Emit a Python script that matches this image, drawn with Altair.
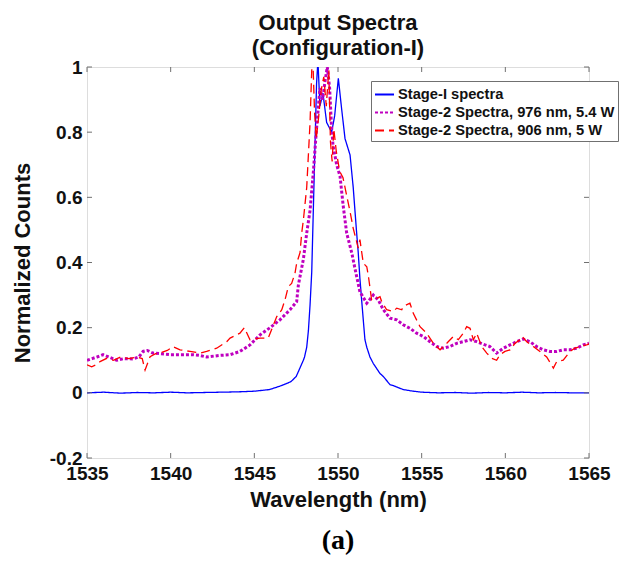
import altair as alt
import pandas as pd

# ---------------- data ----------------
series_names = ["Stage-I spectra", "Stage-2 Spectra, 976 nm, 5.4 W", "Stage-2 Spectra, 906 nm, 5 W"]

stage1_wl = [1535, 1536, 1537, 1538, 1539, 1540, 1541, 1542, 1543, 1544, 1545, 1545.9, 1546.5,
             1547.0, 1547.2, 1547.5, 1547.63, 1547.93, 1548.0, 1548.13, 1548.23, 1548.33, 1548.43,
             1548.52, 1548.62, 1548.72, 1548.8, 1548.92, 1549.1, 1549.32, 1549.62, 1549.8, 1550.02,
             1550.22, 1550.42, 1550.72, 1550.91, 1551.1, 1551.21, 1551.31, 1551.51, 1551.61, 1551.72,
             1551.91, 1552.11, 1552.5, 1552.71, 1553.11, 1553.31, 1553.9, 1554.5, 1555, 1556, 1557,
             1558, 1559, 1560, 1561, 1562, 1563, 1564, 1565]
stage1_val = [0.0, 0.002, -0.001, 0.001, 0.0, 0.002, 0.0, 0.001, 0.002, 0.003, 0.005, 0.01, 0.02,
              0.03, 0.035, 0.05, 0.065, 0.10, 0.11, 0.14, 0.19, 0.27, 0.37,
              0.55, 0.75, 0.95, 1.02, 0.88, 0.92, 0.83, 0.80, 0.85, 0.965,
              0.87, 0.78, 0.73, 0.63, 0.50, 0.43, 0.35, 0.224, 0.163, 0.14,
              0.11, 0.09, 0.06, 0.05, 0.025, 0.022, 0.01, 0.005, 0.002, 0.0, 0.001,
              -0.001, 0.001, 0.0, 0.002, 0.0, 0.001, 0.0, 0.0]

s976_wl = [1535.0, 1535.3, 1535.6, 1535.96, 1536.3, 1536.77, 1537.2, 1537.75, 1538.1, 1538.35, 1538.6,
           1538.94, 1539.4, 1539.96, 1540.56, 1541.33, 1541.7, 1542.15, 1542.95, 1543.55, 1544.14,
           1544.74, 1545.34, 1545.94, 1546.53, 1547.13, 1547.53, 1547.63, 1547.73, 1547.93, 1548.13,
           1548.33, 1548.53, 1548.7, 1548.8, 1548.92, 1549.08, 1549.22, 1549.36, 1549.5, 1549.6,
           1549.7, 1549.92, 1550.12, 1550.32, 1550.52, 1550.62, 1550.82, 1551.02, 1551.31, 1551.72,
           1552.11, 1552.41, 1552.71, 1553.11, 1553.51, 1553.9, 1554.3, 1554.7, 1555.1, 1555.5,
           1555.9, 1556.29, 1556.69, 1557.09, 1557.49, 1557.89, 1558.29, 1558.79, 1559.08, 1559.48,
           1559.88, 1560.28, 1560.68, 1561.07, 1561.47, 1561.87, 1562.27, 1562.67, 1563.07, 1563.46,
           1563.86, 1564.26, 1564.66, 1565.0]
s976_val = [0.10, 0.105, 0.11, 0.117, 0.11, 0.10, 0.105, 0.104, 0.11, 0.127, 0.13,
            0.122, 0.12, 0.117, 0.117, 0.117, 0.115, 0.11, 0.115, 0.117, 0.127,
            0.147, 0.178, 0.20, 0.224, 0.255, 0.28, 0.33, 0.357, 0.41, 0.49,
            0.56, 0.68, 0.80, 0.86, 0.935, 0.90, 0.955, 1.0, 0.935, 0.83,
            0.76, 0.70, 0.665, 0.57, 0.49, 0.47, 0.43, 0.38, 0.31, 0.275,
            0.30, 0.285, 0.255, 0.229, 0.224, 0.209, 0.198, 0.183, 0.173, 0.157,
            0.142, 0.137, 0.142, 0.152, 0.157, 0.163, 0.157, 0.147, 0.142, 0.122,
            0.137, 0.147, 0.157, 0.165, 0.157, 0.142, 0.132, 0.127, 0.127, 0.132,
            0.132, 0.137, 0.147, 0.152]

s906_wl = [1535.0, 1535.28, 1535.5, 1535.78, 1536.18, 1536.57, 1537.0, 1537.5, 1538.0, 1538.3, 1538.47,
           1538.77, 1539.1, 1539.36, 1539.8, 1540.14, 1540.56, 1541.16, 1541.75, 1542.15, 1542.75,
           1543.35, 1543.55, 1544.14, 1544.4, 1544.74, 1545.34, 1545.83, 1546.34, 1546.64, 1546.83,
           1547.03, 1547.23, 1547.43, 1547.53, 1547.73, 1547.83, 1547.93, 1548.13, 1548.23, 1548.33,
           1548.43, 1548.5, 1548.6, 1548.7, 1548.85, 1549.0, 1549.15, 1549.3, 1549.45, 1549.55,
           1549.65, 1549.75, 1549.9, 1550.1, 1550.3, 1550.5, 1550.72, 1550.91, 1551.21, 1551.31,
           1551.51, 1551.72, 1551.82, 1552.01, 1552.31, 1552.51, 1552.61, 1552.91, 1553.31, 1553.51,
           1553.81, 1553.9, 1554.3, 1554.5, 1554.9, 1555.3, 1555.7, 1556.1, 1556.5, 1556.89,
           1557.19, 1557.49, 1557.69, 1557.89, 1558.09, 1558.29, 1558.59, 1558.89, 1559.19, 1559.48,
           1559.68, 1559.98, 1560.28, 1560.58, 1560.88, 1561.01, 1561.28, 1561.67, 1562.07, 1562.47,
           1562.87, 1563.07, 1563.46, 1563.86, 1564.16, 1564.46, 1564.86, 1565.0]
s906_val = [0.086, 0.08, 0.085, 0.096, 0.106, 0.10, 0.11, 0.105, 0.11, 0.105, 0.07,
            0.111, 0.12, 0.122, 0.13, 0.142, 0.132, 0.127, 0.122, 0.127, 0.137,
            0.157, 0.168, 0.183, 0.20, 0.163, 0.168, 0.168, 0.234, 0.255, 0.285,
            0.326, 0.336, 0.367, 0.398, 0.43, 0.49, 0.53, 0.63, 0.73, 0.83,
            0.99, 1.02, 0.86, 0.78, 0.85, 0.93, 0.97, 0.88, 0.99, 0.77,
            0.71, 0.81, 0.74, 0.68, 0.66, 0.61, 0.556, 0.505, 0.444, 0.47,
            0.398, 0.387, 0.357, 0.285, 0.29, 0.295, 0.28, 0.255, 0.25, 0.26,
            0.255, 0.265, 0.275, 0.244, 0.203, 0.183, 0.152, 0.132, 0.152, 0.173,
            0.163, 0.183, 0.203, 0.198, 0.163, 0.183, 0.142, 0.122, 0.106, 0.10,
            0.117, 0.127, 0.132, 0.152, 0.163, 0.173, 0.157, 0.142, 0.127, 0.11,
            0.076, 0.096, 0.10, 0.127, 0.137, 0.142, 0.147, 0.15]

x_ticks = [1535, 1540, 1545, 1550, 1555, 1560, 1565]
y_ticks = [-0.2, 0, 0.2, 0.4, 0.6, 0.8, 1.0]

colors = ["#0000FF", "#BF00BF", "#FF0000"]
dashes = [[1, 0], [3, 2], [9, 5]]
widths = [1.3, 3.0, 1.3]

# ---------------- frames ----------------
series_data = [(series_names[0], stage1_wl, stage1_val),
               (series_names[1], s976_wl, s976_val),
               (series_names[2], s906_wl, s906_val)]
xt = pd.DataFrame({"t": x_ticks})
yt = pd.DataFrame({"t": y_ticks})

W, H = 502, 391
FONT = "Liberation Sans"
FRAME = "#707070"

xscale = alt.Scale(domain=[1535, 1565], nice=False, zero=False)
yscale = alt.Scale(domain=[-0.2, 1.0], nice=False, zero=False)

xaxis = alt.Axis(title="Wavelength (nm)", values=x_ticks, format="d",
                 grid=False, domain=False, ticks=False, labelFlush=False,
                 labelFontSize=19, labelFont=FONT, labelFontWeight="bold",
                 labelColor="#111", labelPadding=6,
                 titleFontSize=22, titleFont=FONT, titleFontWeight="bold",
                 titleColor="#111", titlePadding=6)
yaxis = alt.Axis(title="Normalized Counts", values=y_ticks,
                 labelExpr="toString(round(datum.value*10)/10)",
                 grid=False, domain=False, ticks=False, labelFlush=False,
                 labelFontSize=19, labelFont=FONT, labelFontWeight="bold",
                 labelColor="#111", labelPadding=5,
                 titleFontSize=22, titleFont=FONT, titleFontWeight="bold",
                 titleColor="#111", titlePadding=15)

legend = alt.Legend(title=None, orient="none", legendX=284, legendY=14,
                    symbolType="stroke", symbolSize=361, symbolStrokeWidth=2,
                    labelFont=FONT, labelFontSize=14.7, labelFontWeight="bold",
                    labelColor="#111", labelLimit=400, labelOffset=3,
                    padding=3, rowPadding=0, fillColor="white",
                    strokeColor=FRAME, cornerRadius=0)

line_layers = []
for i, (name, wl, val) in enumerate(series_data):
    d = pd.DataFrame({"series": name, "wl": wl, "val": val})
    line_layers.append(
        alt.Chart(d).mark_line(clip=True, strokeCap="butt", strokeWidth=widths[i]).encode(
            x=alt.X("wl:Q", scale=xscale, axis=xaxis),
            y=alt.Y("val:Q", scale=yscale, axis=yaxis),
            color=alt.Color("series:N", scale=alt.Scale(domain=series_names, range=colors),
                            legend=legend),
            strokeDash=alt.StrokeDash("series:N",
                                      scale=alt.Scale(domain=series_names, range=dashes),
                                      legend=legend),
        )
    )

TL = 5
xt_bottom = alt.Chart(xt).mark_rule(color=FRAME, strokeWidth=1).encode(
    x=alt.X("t:Q", scale=xscale, axis=xaxis), y=alt.value(H), y2=alt.value(H - TL))
xt_top = alt.Chart(xt).mark_rule(color=FRAME, strokeWidth=1).encode(
    x=alt.X("t:Q", scale=xscale, axis=xaxis), y=alt.value(0), y2=alt.value(TL))
yt_left = alt.Chart(yt).mark_rule(color=FRAME, strokeWidth=1).encode(
    y=alt.Y("t:Q", scale=yscale, axis=yaxis), x=alt.value(0), x2=alt.value(TL))
yt_right = alt.Chart(yt).mark_rule(color=FRAME, strokeWidth=1).encode(
    y=alt.Y("t:Q", scale=yscale, axis=yaxis), x=alt.value(W), x2=alt.value(W - TL))

panel_label = alt.Chart(pd.DataFrame({"label": ["(a)"]})).mark_text(
    font="Liberation Serif", fontSize=28, fontWeight="bold", color="black",
    baseline="middle", align="center", clip=False
).encode(text="label:N", x=alt.value(W / 2), y=alt.value(474))

chart = alt.layer(*line_layers, xt_bottom, xt_top, yt_left, yt_right, panel_label).properties(
    width=W, height=H,
    title=alt.TitleParams(text=["Output Spectra", "(Configuration-I)"], fontSize=22,
                          font=FONT, fontWeight="bold", lineHeight=25, offset=-2,
                          anchor="middle", color="#111"),
    padding={"left": 79, "top": 59, "right": 40, "bottom": 97},
    autosize=alt.AutoSizeParams(type="none"),
).configure_view(stroke=FRAME, strokeWidth=1.2).configure(background="white")

chart.save("out.html", embed_options={"renderer": "svg", "actions": False})
